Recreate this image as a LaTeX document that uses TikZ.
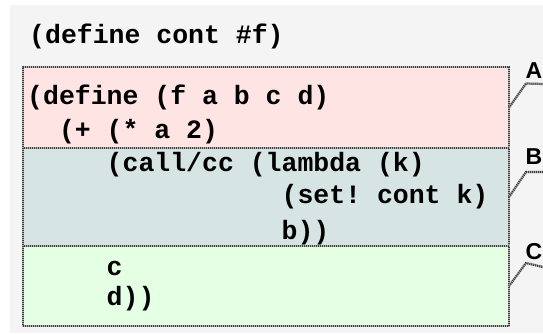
\documentclass[tikz,border=0pt]{standalone}
\usepackage{fontspec}
\newfontfamily\codefont{Liberation Mono}[BoldFont={Liberation Mono Bold}]
\newfontfamily\labfont{Liberation Sans}[BoldFont={Liberation Sans Bold}]
\definecolor{bgc}{HTML}{F4F4F4}
\definecolor{ca}{HTML}{FFE4E4}
\definecolor{cb}{HTML}{D6E4E4}
\definecolor{cc}{HTML}{E4FFE4}
\frenchspacing
\tikzset{
  dotborder/.style={line width=2.2pt, draw=gray!60,
    postaction={draw=black!75, line width=2.2pt, dash pattern=on 1pt off 1pt}},
  region/.style={dotborder, anchor=north west, minimum width=486pt, inner sep=0pt, outer sep=0pt},
  code/.style={anchor=base west, inner sep=0pt, font=\codefont\bfseries\fontsize{26.5}{30}\selectfont},
  lab/.style={anchor=base, inner sep=0pt, font=\labfont\bfseries\fontsize{23}{26}\selectfont},
  leader/.style={line width=2.2pt, draw=gray!60,
    postaction={draw=black!75, line width=2.2pt, dash pattern=on 1pt off 1pt}}
}
\newcommand{\cw}{15.9}
\begin{document}
\begin{tikzpicture}[x=1pt,y=-1pt]
\useasboundingbox (0,0) rectangle (543,333);
\fill[bgc] (10,5) rectangle (543,333);
\node[code] (top) at (29,43) {(define cont \#f)};
\node[region, fill=ca, minimum height=81pt] (ra) at (23,67) {};
\node[region, fill=cb, minimum height=98pt] (rb) at (23,148) {};
\node[region, fill=cc, minimum height=80pt] (rc) at (23,246) {};
\node[code] (l1) at (27,104) {(define (f a b c d)};
\node[code] (l2) at (27+2*\cw,138) {(+ (* a 2)};
\node[code] (l3) at (27+5*\cw,171) {(call/cc (lambda (k)};
\node[code] (l4) at (27+16*\cw,203) {(set! cont k)};
\node[code] (l5) at (27+16*\cw,239) {b))};
\node[code] (l6) at (27+5*\cw,275) {c};
\node[code] (l7) at (27+5*\cw,305) {d))};
\node[lab] (la) at (534,78) {A};
\node[lab] (lb) at (534,164) {B};
\node[lab] (lc) at (534,259) {C};
\coordinate (ea) at (543,84);
\coordinate (eb) at (543,172);
\coordinate (ec) at (543,267);
\draw[leader] (ra.east) -- ++(17,-24) -- (ea);
\draw[leader] (rb.east) -- ++(17,-25) -- (eb);
\draw[leader] (rc.east) -- ++(17,-23) -- (ec);
\end{tikzpicture}
\end{document}
